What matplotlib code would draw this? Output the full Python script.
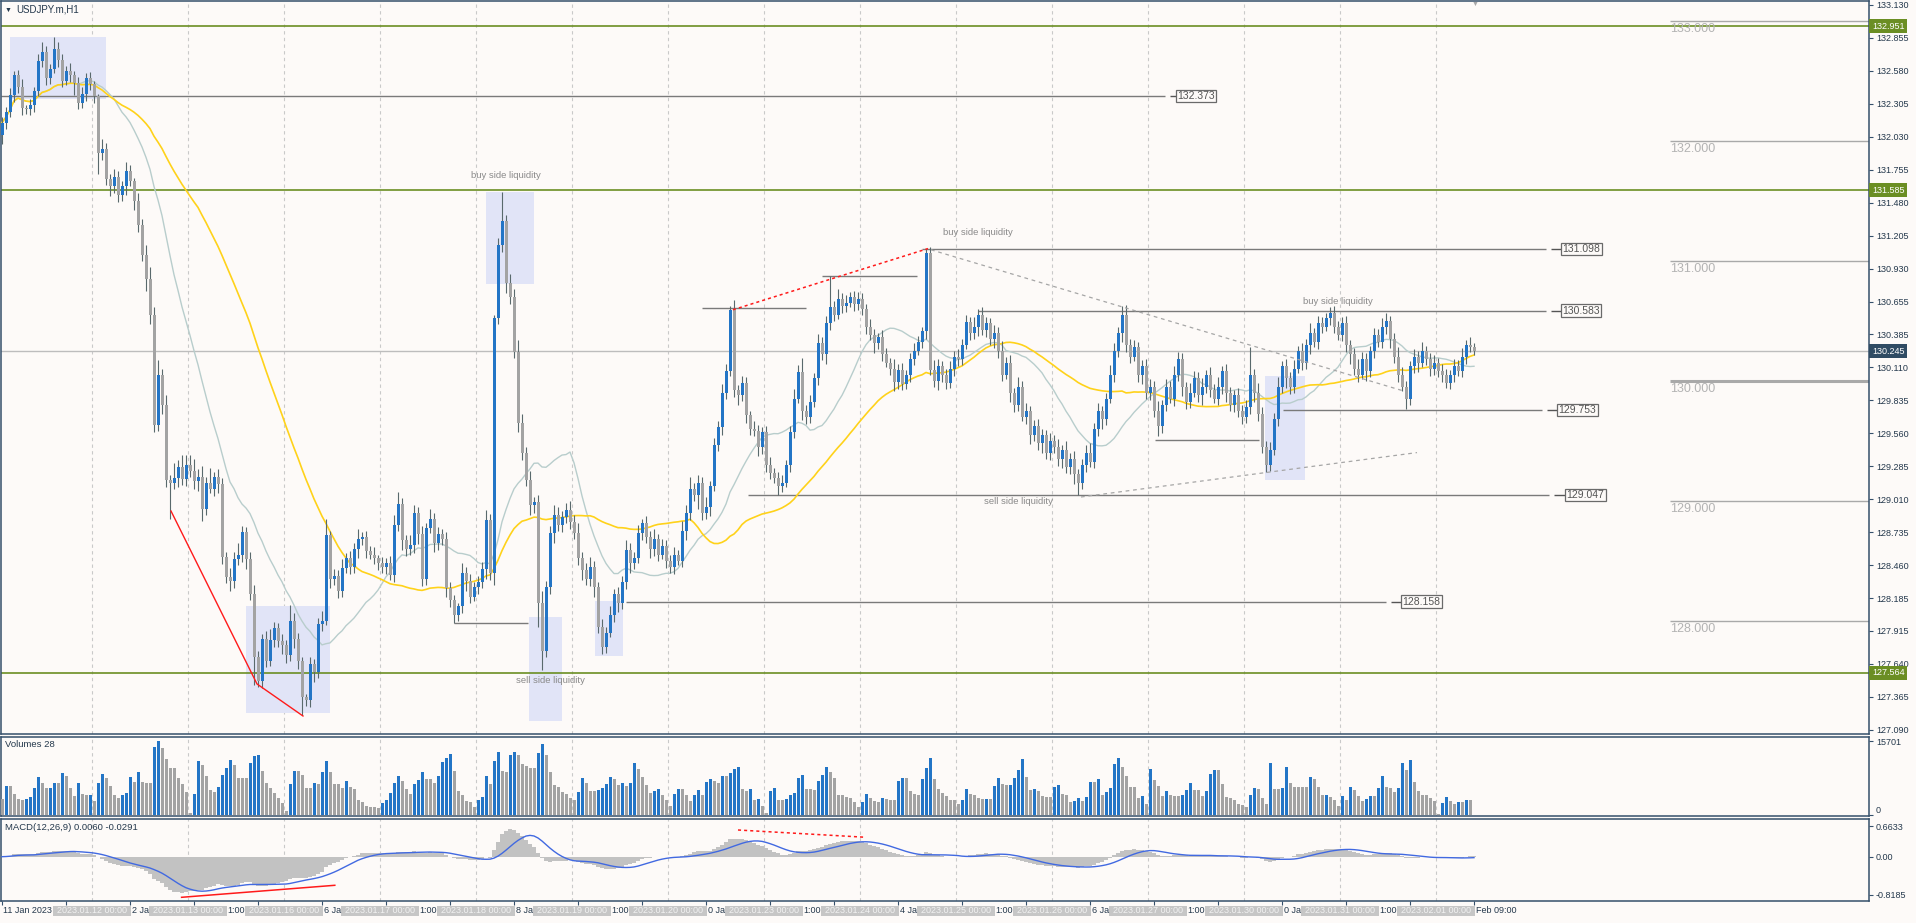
import matplotlib
matplotlib.use("Agg")
import matplotlib.pyplot as plt
import matplotlib.transforms as mtransforms
from matplotlib.patches import Rectangle
import numpy as np
import pandas as pd

plt.rcParams["font.family"] = ["Liberation Sans", "DejaVu Sans"]

# ---------------- data (USDJPY.m, H1) ----------------
trading_days = ["2023-01-11", "2023-01-12", "2023-01-13", "2023-01-16", "2023-01-17",
                "2023-01-18", "2023-01-19", "2023-01-20", "2023-01-23", "2023-01-24",
                "2023-01-25", "2023-01-26", "2023-01-27", "2023-01-30", "2023-01-31",
                "2023-02-01"]

first_open = 132.05
close = [
    # 11 Jan (01:00 - 23:00)
    132.15, 132.24, 132.38, 132.55, 132.45, 132.27, 132.26, 132.30, 132.41, 132.66, 132.74, 132.52,
    132.60, 132.76, 132.67, 132.50, 132.58, 132.55, 132.48, 132.31, 132.39, 132.52, 132.47,
    # 12 Jan
    132.37, 131.90, 131.93, 131.68, 131.62, 131.70, 131.55, 131.62, 131.75, 131.66, 131.50, 131.30,
    131.05, 130.85, 130.55, 129.63, 130.05, 129.80, 129.17, 129.15, 129.19, 129.28, 129.18, 129.30,
    # 13 Jan
    129.25, 129.16, 129.20, 128.93, 129.15, 129.10, 129.20, 129.14, 128.53, 128.36, 128.33, 128.51,
    128.55, 128.74, 128.51, 128.22, 127.70, 127.50, 127.85, 127.66, 127.84, 127.94, 127.83, 127.80,
    # 16 Jan
    127.71, 128.00, 127.85, 127.66, 127.36, 127.34, 127.64, 127.57, 127.97, 128.00, 128.71, 128.35,
    128.37, 128.25, 128.44, 128.52, 128.45, 128.60, 128.68, 128.70, 128.58, 128.55, 128.52, 128.48,
    # 17 Jan
    128.45, 128.48, 128.38, 128.80, 128.97, 128.67, 128.60, 128.63, 128.90, 128.72, 128.35, 128.77,
    128.85, 128.65, 128.72, 128.68, 128.27, 128.17, 128.05, 128.12, 128.40, 128.33, 128.20, 128.28,
    # 18 Jan
    128.32, 128.43, 128.84, 128.40, 130.52, 131.13, 131.33, 130.81, 130.70, 130.24, 129.65, 129.40,
    129.17, 128.96, 128.99, 128.15, 127.75, 128.28, 128.73, 128.88, 128.80, 128.86, 128.92, 128.82,
    # 19 Jan
    128.73, 128.52, 128.42, 128.35, 128.45, 128.28, 127.95, 127.78, 127.90, 128.05, 128.22, 128.15,
    128.32, 128.59, 128.48, 128.52, 128.73, 128.81, 128.70, 128.60, 128.68, 128.55, 128.62, 128.50,
    # 20 Jan
    128.45, 128.55, 128.50, 128.75, 128.90, 129.10, 129.05, 129.15, 128.90, 128.95, 129.12, 129.46,
    129.61, 129.90, 130.08, 130.59, 129.92, 129.88, 129.98, 129.71, 129.60, 129.58, 129.45, 129.57,
    # 23 Jan
    129.30, 129.23, 129.19, 129.12, 129.15, 129.30, 129.57, 129.85, 130.07, 129.75, 129.70, 129.82,
    130.02, 130.31, 130.22, 130.48, 130.61, 130.55, 130.68, 130.62, 130.65, 130.70, 130.64, 130.68,
    # 24 Jan
    130.60, 130.45, 130.38, 130.31, 130.36, 130.22, 130.15, 130.10, 129.99, 130.09, 129.97, 130.05,
    130.18, 130.25, 130.32, 130.41, 131.06, 130.09, 130.00, 130.12, 130.05, 129.98, 130.10, 130.20,
    # 25 Jan
    130.18, 130.30, 130.49, 130.40, 130.45, 130.55, 130.42, 130.48, 130.35, 130.40, 130.25, 130.05,
    130.15, 129.90, 129.80, 129.95, 129.70, 129.75, 129.55, 129.62, 129.48, 129.55, 129.40, 129.50,
    # 26 Jan
    129.45, 129.35, 129.42, 129.28, 129.35, 129.22, 129.15, 129.30, 129.40, 129.32, 129.60, 129.75,
    129.68, 129.85, 130.05, 130.25, 130.40, 130.55, 130.30, 130.20, 130.28, 130.05, 130.12, 129.90,
    # 27 Jan
    129.95, 129.75, 129.62, 129.80, 129.95, 129.85, 130.05, 130.18, 129.95, 129.82, 129.90, 130.02,
    129.88, 129.95, 130.05, 129.92, 129.85, 129.95, 130.08, 129.90, 129.80, 129.88, 129.75, 129.70,
    # 30 Jan
    129.78, 130.05, 129.90, 129.72, 129.45, 129.30, 129.42, 129.68, 129.95, 130.12, 130.02, 129.95,
    130.10, 130.25, 130.15, 130.30, 130.40, 130.32, 130.48, 130.45, 130.52, 130.56, 130.45, 130.38,
    # 31 Jan
    130.48, 130.30, 130.22, 130.10, 130.05, 130.18, 130.08, 130.25, 130.38, 130.32, 130.45, 130.50,
    130.35, 130.20, 130.05, 129.95, 129.85, 130.12, 130.20, 130.15, 130.25, 130.18, 130.10, 130.15,
    # 1 Feb (00:00 - 09:00)
    130.08, 130.05, 129.98, 130.05, 130.12, 130.08, 130.20, 130.30, 130.28, 130.245,
]

# wick lengths beyond the body, in pips (0.01 JPY)
wick_up = [
    5, 4, 6, 3, 4, 6, 3, 5, 4, 6, 8, 5, 4, 10, 6, 5, 4, 7, 3, 5, 6, 4, 5,
    3, 2, 8, 5, 4, 6, 5, 4, 7, 5, 3, 6, 5, 8, 10, 6, 12, 5, 8, 4, 12, 6, 10, 8,
    8, 10, 6, 9, 5, 12, 4, 6, 5, 4, 8, 6, 10, 5, 4, 6, 8, 5, 4, 6, 9, 5, 4, 6,
    4, 13, 6, 5, 4, 3, 6, 4, 5, 8, 14, 4, 6, 5, 7, 4, 6, 5, 8, 4, 5, 4, 6, 3,
    5, 4, 6, 8, 10, 5, 4, 8, 6, 5, 7, 4, 8, 5, 6, 4, 6, 5, 4, 3, 8, 5, 6, 4,
    5, 6, 8, 5, 3, 6, 24, 5, 8, 6, 10, 7, 5, 8, 4, 6, 10, 5, 6, 8, 7, 5, 6, 8,
    6, 8, 5, 6, 8, 5, 4, 6, 5, 7, 4, 6, 5, 8, 6, 5, 7, 4, 6, 5, 8, 4, 6, 5,
    5, 6, 4, 8, 6, 10, 5, 6, 5, 8, 4, 6, 5, 7, 6, 3, 8, 4, 6, 5, 4, 6, 5, 4,
    5, 6, 4, 5, 6, 4, 5, 8, 6, 12, 5, 6, 4, 8, 5, 6, 26, 5, 8, 5, 6, 4, 5, 6,
    5, 4, 6, 5, 4, 6, 5, 4, 8, 5, 6, 4, 5, 6, 5, 4, 4, 5, 8, 6, 4, 5, 6, 5,
    6, 5, 6, 4, 8, 5, 6, 5, 4, 6, 5, 8, 5, 6, 4, 8, 5, 6, 4, 5, 6, 5, 4, 6,
    5, 6, 4, 8, 5, 6, 4, 5, 6, 8, 5, 6, 4, 5, 8, 6, 5, 7, 8, 5, 6, 4, 5, 6,
    6, 5, 8, 4, 6, 5, 7, 6, 5, 4, 8, 6, 5, 7, 4, 6, 5, 8, 4, 6, 5, 4, 6, 5,
    6, 23, 5, 8, 6, 5, 7, 5, 8, 4, 6, 5, 7, 4, 6, 5, 8, 4, 6, 5, 4, 5, 6, 5,
    5, 6, 4, 5, 8, 6, 5, 4, 6, 5, 7, 6, 4, 5, 8, 6, 5, 4, 6, 5, 7, 4, 5, 6,
    4, 6, 5, 4, 6, 5, 7, 4, 6, 3,
]
wick_dn = [
    8, 5, 4, 6, 5, 6, 4, 5, 6, 4, 5, 6, 5, 4, 6, 5, 4, 6, 10, 5, 4, 6, 5,
    6, 18, 6, 5, 8, 6, 6, 5, 7, 4, 8, 6, 5, 10, 8, 6, 5, 8, 6, 30, 5, 8, 5, 6,
    5, 6, 8, 10, 5, 4, 6, 8, 6, 5, 8, 6, 5, 6, 8, 5, 24, 5, 6, 5, 4, 6, 5, 8,
    6, 5, 8, 6, 15, 5, 6, 8, 5, 6, 4, 8, 5, 6, 5, 4, 6, 5, 8, 5, 6, 4, 5, 6,
    5, 6, 4, 6, 5, 8, 6, 5, 7, 8, 6, 5, 4, 8, 6, 5, 7, 6, 7, 5, 6, 8, 5, 4,
    6, 5, 8, 6, 10, 5, 6, 8, 6, 5, 8, 6, 5, 8, 6, 20, 16, 5, 6, 8, 5, 6, 5, 6,
    5, 6, 8, 5, 6, 8, 5, 6, 5, 4, 6, 8, 5, 6, 8, 5, 4, 6, 5, 8, 6, 5, 4, 6,
    5, 6, 4, 5, 8, 6, 5, 12, 6, 5, 8, 4, 5, 6, 5, 4, 6, 8, 5, 6, 5, 4, 8, 6,
    6, 5, 4, 7, 5, 4, 6, 5, 4, 8, 6, 5, 4, 6, 5, 8, 6, 5, 4, 6, 5, 4, 6, 5,
    5, 6, 4, 8, 5, 6, 4, 5, 8, 6, 5, 4, 6, 5, 4, 5, 6, 4, 5, 8, 6, 5, 4, 6,
    6, 5, 4, 6, 5, 8, 4, 6, 5, 8, 6, 5, 4, 8, 6, 5, 4, 6, 8, 5, 6, 8, 5, 6,
    5, 6, 8, 5, 6, 8, 10, 5, 6, 4, 5, 6, 8, 5, 4, 6, 5, 8, 6, 5, 4, 6, 8, 5,
    6, 5, 8, 6, 5, 4, 6, 5, 8, 6, 5, 4, 6, 8, 5, 6, 4, 5, 6, 8, 5, 6, 5, 6,
    5, 6, 8, 6, 5, 6, 5, 4, 6, 5, 8, 6, 5, 4, 6, 5, 8, 4, 6, 5, 4, 6, 5, 4,
    5, 6, 8, 5, 6, 4, 8, 5, 6, 4, 5, 6, 8, 5, 6, 4, 9, 5, 6, 8, 4, 5, 6, 5,
    5, 6, 4, 5, 6, 4, 5, 6, 4, 3,
]

volume = [
    3475, 6154, 6154, 4561, 3475, 3113, 3475, 3837, 5792, 7964, 6733, 5647, 5792, 6878, 6878, 8905,
    8326, 5792, 3982, 6878, 4561, 4199, 4344, 2896, 6878, 8688, 7747, 6154, 4199, 3620, 4344, 4706,
    7964, 7023, 9195, 7023, 6878, 6878, 14335, 15701, 14118, 11946, 9919, 9919, 7747, 6516, 4851, 507,
    4489, 11439, 10643, 8326, 5285, 4923, 5937, 8471, 9919, 11584, 10643, 7747, 7747, 7747, 11005, 12453,
    12670, 9412, 6878, 5647, 4706, 3620, 2534, 869, 6516, 9412, 9412, 8543, 5647, 5647, 6878, 6516,
    9195, 11439, 9050, 6516, 6516, 5792, 7240, 6009, 5430, 3113, 2679, 1810, 1665, 1593, 1450, 2534,
    3258, 4706, 6733, 8181, 7240, 5430, 4561, 6516, 7385, 9050, 7602, 7602, 6878, 8326, 11222, 12163,
    13032, 9412, 5068, 4199, 2896, 2679, 1665, 3113, 3837, 8326, 6516, 11367, 13394, 9412, 9050, 12670,
    13394, 12670, 10860, 10498, 9919, 9919, 13177, 14987, 12815, 9195, 6299, 5937, 4923, 4561, 3620, 3113,
    4851, 7747, 6733, 5068, 5068, 5213, 5647, 6516, 7964, 7602, 6371, 6878, 6154, 6878, 11005, 9774,
    7964, 6299, 4706, 5068, 5575, 4199, 3258, 1955, 4561, 5575, 5575, 4199, 2896, 4199, 5213, 4199,
    7095, 7602, 7240, 6878, 8326, 8326, 8833, 9774, 10136, 5430, 5068, 5430, 3113, 3403, 1955, 362,
    5068, 5647, 3258, 3113, 3403, 4199, 4706, 7819, 8543, 5575, 5430, 5285, 7240, 8471, 10136, 9050,
    7819, 4344, 4199, 3765, 3620, 2751, 1593, 2679, 4561, 3620, 2896, 2679, 3620, 3400, 3258, 3258,
    7240, 7819, 7819, 5068, 4561, 4344, 7602, 9991, 12163, 7602, 5430, 4706, 3982, 3258, 3113, 2389,
    3113, 5575, 4561, 4199, 3620, 3403, 3475, 3475, 6154, 7747, 6516, 6299, 6371, 7819, 9629, 11946,
    8109, 5285, 5430, 5068, 4127, 3900, 3765, 6009, 6299, 4561, 4344, 2679, 3041, 3620, 3041, 3837,
    7023, 7023, 7602, 4344, 4923, 5792, 10860, 12163, 10136, 8326, 6009, 6009, 3620, 3982, 2389, 9774,
    7385, 6154, 4100, 5068, 4199, 3982, 3982, 4199, 5213, 6733, 5213, 5213, 3982, 5068, 8688, 9629,
    9629, 6516, 3765, 3620, 3258, 2389, 2172, 1593, 4344, 5792, 5430, 3620, 2389, 11077, 5575, 5575,
    5647, 10281, 6733, 5937, 5937, 5937, 5937, 8109, 7602, 5937, 4199, 4344, 3765, 3258, 1810, 4127,
    3113, 6009, 5213, 4127, 2896, 3475, 4127, 4127, 5647, 8181, 6009, 5647, 4851, 5647, 11077, 9629,
    11729, 7023, 5068, 4199, 4199, 3620, 3041, 145, 2534, 3765, 3041, 2389, 2679, 2679, 3258, 3113, 50,
]

price_ticks = [133.130, 132.855, 132.580, 132.305, 132.030, 131.755, 131.480, 131.205, 130.930,
               130.655, 130.385, 130.110, 129.835, 129.560, 129.285, 129.010, 128.735, 128.460,
               128.185, 127.915, 127.640, 127.365, 127.090]
green_levels = [132.951, 131.585, 127.564]
last_price = 130.245
round_levels = [133.0, 132.0, 131.0, 130.0, 129.0, 128.0]

# time-axis text: first label, and the parts of the hourly labels left visible
# between the day-separator boxes
first_time_label = "11 Jan 2023"
axis_fragments = ["2 Ja", "1:00", "6 Ja", "1:00", "8 Ja", "1:00", "0 Ja", "1:00",
                  "4 Ja", "1:00", "6 Ja", "1:00", "0 Ja", "1:00", "Feb 09:00"]

# marked levels: price, from bar, to bar, label bar
marked_price = [132.373, 131.098, 130.583, 129.753, 129.047, 128.158]
marked_from = [-0.25, 230, 244, 320.25, 186.5, 156]
marked_to = [290.75, 386, 386, 385, 386.75, 346]
marked_label = [293.5, 389.75, 389.75, 388.75, 390.75, 349.75]

short_price = [130.605, 130.87, 127.98, 129.505]
short_from = [175, 205, 113, 288.25]
short_to = [201, 228.75, 131.5, 314.25]

# highlighted zones: bar from, bar to, price top, price bottom
zone_x0 = [2, 121, 61, 131.75, 148.25, 315.75]
zone_x1 = [26, 133, 82, 140, 155.25, 325.75]
zone_top = [132.863, 131.572, 128.122, 128.03, 128.163, 130.038]
zone_bot = [132.347, 130.805, 127.23, 127.163, 127.705, 129.172]

red_trend_x, red_trend_y = [42.25, 63.75, 75.25], [128.913, 127.472, 127.205]
red_dot_x, red_dot_y = [182.75, 231.5], [130.59, 131.10]
gray_dash1_x, gray_dash1_y = [232.25, 350.75], [131.09, 129.91]
gray_dash2_x, gray_dash2_y = [269.75, 353.75], [129.03, 129.40]
macd_red_x, macd_red_y = [44.9, 83.2], [-0.879, -0.619]
macd_dot_x, macd_dot_y = [184, 216], [0.578, 0.42]

notes = [("buy side liquidity", 126, 131.705), ("buy side liquidity", 244, 131.238),
         ("buy side liquidity", 334, 130.663), ("sell side liquidity", 137, 127.497),
         ("sell side liquidity", 254, 128.99)]

assert len(close) == len(wick_up) == len(wick_dn) == len(volume) == 369

# ---------------- derived series ----------------
c = np.array(close)
o = np.r_[first_open, c[:-1]]
hi = np.maximum(o, c) + np.array(wick_up) / 100
lo = np.minimum(o, c) - np.array(wick_dn) / 100
vol = np.array(volume)
idx = np.arange(len(c))
s = pd.Series(c)
ma_fast = s.rolling(20, min_periods=1).mean()
ma_slow = s.rolling(50, min_periods=1).mean()
macd = s.ewm(span=12, adjust=False).mean() - s.ewm(span=26, adjust=False).mean()
signal = macd.rolling(9, min_periods=1).mean()

days = pd.to_datetime(trading_days)
day_starts = [23 + 24 * k for k in range(len(days) - 1)]

# ---------------- styling ----------------
BG = "#fdfaf8"
AXC = "#35506b"
TXT = "#24384c"
BLUE = "#2375c6"
GRAY = "#a3a3a3"
WICK = "#59696c"
GREEN = "#6b8e23"
W, H = 1916, 923

fig = plt.figure(figsize=(W / 100, H / 100), dpi=100, facecolor=BG)


def panel(top, bottom):
    a = fig.add_axes([1 / W, 1 - bottom / H, 1868 / W, (bottom - top) / H])
    a.set_facecolor(BG)
    for sp in a.spines.values():
        sp.set_color(AXC)
        sp.set_linewidth(1.1)
    a.set_xlim(-0.25, 466.75)
    a.yaxis.tick_right()
    a.tick_params(axis="y", length=3, width=0.8, color=AXC, labelsize=6.5,
                  labelcolor=TXT, pad=2)
    a.tick_params(axis="x", length=0, labelbottom=False)
    for k in day_starts:
        a.axvline(k - 0.6, color="#c9c9c9", lw=0.8, ls=(0, (3, 3)), zorder=1)
    return a


ax = panel(1, 734)
axv = panel(737, 816)
axm = panel(819, 901)

# ---- main price panel ----
ax.set_ylim(127.055, 133.163)
ax.set_yticks(price_ticks)
ax.set_yticklabels([f"{p:.3f}" for p in price_ticks])

for x0, x1, t, b in zip(zone_x0, zone_x1, zone_top, zone_bot):
    ax.add_patch(Rectangle((x0, b), x1 - x0, t - b, facecolor="#e1e4f7",
                           edgecolor="none", zorder=1.5))

for p in green_levels:
    ax.axhline(p, color=GREEN, lw=1.2, zorder=2)
ax.axhline(last_price, color="#bdbdbd", lw=1.0, zorder=2)

for p in round_levels:
    ax.hlines(p, 417, 466.75, color="#a9a9a9", lw=2.2 if p == 130.0 else 1.0, zorder=2)
    ax.text(417, p - 0.02, f"{p:.3f}", fontsize=9, color="#b3b3b3", ha="left", va="top", zorder=2)

for p, x0, x1, xl in zip(marked_price, marked_from, marked_to, marked_label):
    ax.hlines(p, x0, x1, color="#7a7a7a", lw=1.0, zorder=2)
    ax.hlines(p, x1 + 1.25, xl, color="#555555", lw=1.0, zorder=2)
    ax.text(xl + 0.4, p, f"{p:.3f}", fontsize=7.5, color="#555555", ha="left", va="center",
            bbox=dict(boxstyle="square,pad=0.12", fc=BG, ec="#6a6a6a", lw=0.9), zorder=6)

for p, x0, x1 in zip(short_price, short_from, short_to):
    ax.hlines(p, x0, x1, color="#7a7a7a", lw=1.0, zorder=2)

ax.plot(red_trend_x, red_trend_y, color="#ff1a1a", lw=1.0, zorder=5)
ax.plot(red_dot_x, red_dot_y, color="#ff1a1a", lw=1.1, ls=(0, (2, 2)), zorder=5)
ax.plot(gray_dash1_x, gray_dash1_y, color="#a6a6a6", lw=0.9, ls=(0, (3, 3)), zorder=5)
ax.plot(gray_dash2_x, gray_dash2_y, color="#a6a6a6", lw=0.9, ls=(0, (3, 3)), zorder=5)

ax.plot(idx, ma_fast, color="#b8cdcc", lw=1.0, zorder=3)
ax.plot(idx, ma_slow, color="#ffd21a", lw=1.2, zorder=3)

bull = c >= o
ax.vlines(idx, lo, hi, color=WICK, lw=0.8, zorder=3.5)
ax.bar(idx, np.maximum(np.abs(c - o), 0.008), bottom=np.minimum(o, c), width=0.75,
       color=np.where(bull, BLUE, GRAY), linewidth=0, zorder=4)

for txt, xb, yp in notes:
    ax.text(xb, yp, txt, fontsize=6.8, color="#8a8a8a", ha="center", va="center", zorder=6)

ytr = ax.get_yaxis_transform()
for p in green_levels:
    ax.text(1 + 3 / 1868, p, f"{p:.3f}", transform=ytr, fontsize=6.5, color="white",
            ha="left", va="center", clip_on=False, zorder=10,
            bbox=dict(boxstyle="square,pad=0.28", fc=GREEN, ec="none"))
ax.text(1 + 3 / 1868, last_price, f"{last_price:.3f}", transform=ytr, fontsize=6.5,
        color="white", ha="left", va="center", clip_on=False, zorder=10,
        bbox=dict(boxstyle="square,pad=0.28", fc="#2f4b63", ec="none"))

ax.text(idx[-1] + 0.3, 133.163, "\u25bc", fontsize=5, color="#a8a8a8", ha="center",
        va="top", zorder=6)
fig.text(5 / W, 1 - 10 / H, "\u25bc", fontsize=5, color=TXT, ha="left", va="center")
fig.text(16 / W, 1 - 10 / H, "USDJPY.m,H1", fontsize=7, color=TXT, ha="left", va="center")

# ---- volumes ----
axv.set_ylim(-212, 16550)
vcol = np.where(np.r_[False, vol[1:] > vol[:-1]], BLUE, GRAY)
axv.bar(idx, vol, width=0.75, color=vcol, linewidth=0, zorder=3)
axv.set_yticks([0, 15701])
axv.set_yticklabels(["0", "15701"])
axv.get_yticklabels()[0].set_va("bottom")
axv.text(4 / 1868, 0.9, "Volumes 28", transform=axv.transAxes, fontsize=6.8, color=TXT,
         ha="left", va="center")

# ---- MACD ----
axm.set_ylim(-0.959, 0.816)
axm.bar(idx, macd, width=1.0, color="#c2c2c2", linewidth=0, zorder=2)
axm.plot(idx, signal, color="#4169e1", lw=1.0, zorder=3)
axm.plot(macd_red_x, macd_red_y, color="#ff1a1a", lw=1.1, zorder=4)
axm.plot(macd_dot_x, macd_dot_y, color="#ff1a1a", lw=1.1, ls=(0, (2, 2)), zorder=4)
axm.set_yticks([0.6633, 0.0, -0.8185])
axm.set_yticklabels(["0.6633", "0.00", "-0.8185"])
axm.text(4 / 1868, 0.9, "MACD(12,26,9) 0.0060 -0.0291", transform=axm.transAxes,
         fontsize=6.8, color=TXT, ha="left", va="center")

# ---- time axis ----
axm.set_xticks(list(range(0, len(c), 16)))
axm.tick_params(axis="x", length=3, width=0.8, color=AXC, labelbottom=False)
lbl_tr = mtransforms.blended_transform_factory(axm.transData, fig.transFigure)
y_lbl = 1 - 910.5 / H
box_w = 19.5          # bars (78 px)
box_h = 10 / H
axm.text(0.2, y_lbl, first_time_label, transform=lbl_tr, fontsize=6.5, color=TXT,
         ha="left", va="center", clip_on=False)
for k, d, frag in zip(day_starts, days[1:], axis_fragments):
    xc = k - 0.6
    axm.add_patch(Rectangle((xc - box_w / 2, y_lbl - box_h / 2), box_w, box_h,
                            transform=lbl_tr, facecolor="#c6c6c6", edgecolor="none",
                            clip_on=False, zorder=5))
    axm.text(xc, y_lbl, f"{d:%Y.%m.%d} 00:00", transform=lbl_tr, fontsize=6.5,
             color="#f2f2f2", ha="center", va="center", clip_on=False, zorder=6)
    axm.text(xc + box_w / 2 + 0.3, y_lbl, frag, transform=lbl_tr, fontsize=6.5, color=TXT,
             ha="left", va="center", clip_on=False, zorder=6)

fig.savefig("out.png", dpi=100, facecolor=BG)
